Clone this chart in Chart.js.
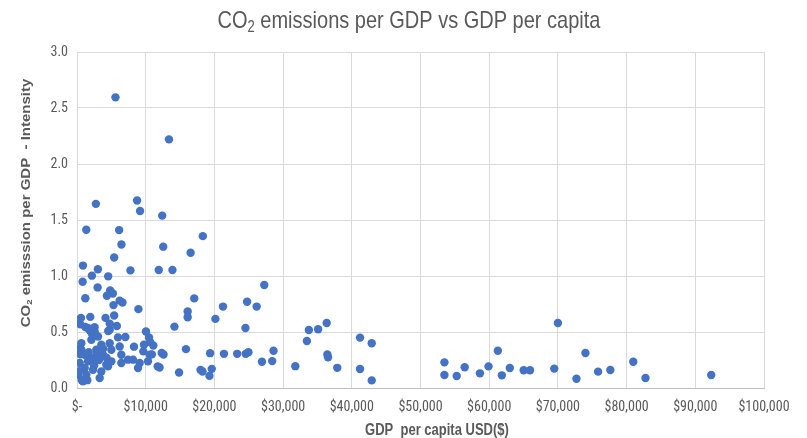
<!DOCTYPE html>
<html>
<head>
<meta charset="utf-8">
<script src="https://cdn.jsdelivr.net/npm/chart.js@4"></script>
<style>
  html, body { margin: 0; padding: 0; background: #ffffff; }
  #wrap { width: 807px; height: 438px; }
</style>
</head>
<body>
<div id="wrap"><canvas id="c" width="807" height="438"></canvas></div>
<script>
// GDP per capita (USD) for each country
const gdpPerCapita = [
  5600, 13390,
  2750, 8744, 9180, 12400, 1350, 6135, 6470, 12550, 5410, 870, 3040, 7780, 11900, 13894,
  2170, 4540, 820, 3000, 4830, 5220, 4350, 1210, 6620, 6210, 5310, 8940, 580, 1930, 4150, 5410,
  18317, 16538, 27260, 17067, 21250, 24760, 26150, 16106, 16106, 20144,
  480, 1210, 2560, 1840, 4540, 2170, 4760, 5800, 4760, 1600, 2570, 3060, 2090, 5970, 7040,
  10040, 10480, 10630, 11110, 8300, 9750, 630, 630, 3540, 4760, 5000, 6210, 2810, 12330, 9650,
  10900, 14183, 15865, 12596, 19375, 21394, 23317, 24567, 24952, 24519, 28606,
  3780, 6450, 7420, 8150, 9120, 10580, 10330, 8880, 1120, 390, 1600, 2570, 4270, 5000, 6450,
  1120, 2330, 3540, 150, 1360, 3300, 870, 4510, 11740, 12019, 14856, 17981, 18269, 19615, 19279,
  300, 200, 500, 300, 700, 1500, 2500, 3200, 2000, 1700, 2900, 3800, 4300,
  26923, 28413, 31779, 33462, 33750, 35096, 36346, 36442, 36538, 37885,
  41200, 42900, 41200, 42900,
  53480, 53480, 55270, 56430, 58650, 59900, 61260, 61840, 63000, 65020, 65940, 69470, 70000,
  72700, 74010, 75850, 77630, 80970, 82750, 92320
];

// CO2 emissions per unit of GDP (intensity), same order as gdpPerCapita
const intensity = [
  2.595, 2.22,
  1.644, 1.674, 1.58, 1.539, 1.413, 1.41, 1.281, 1.262, 1.165, 1.093, 1.06, 1.05, 1.054, 1.054,
  1.003, 0.997, 0.949, 0.898, 0.871, 0.844, 0.823, 0.802, 0.763, 0.78, 0.74, 0.704, 0.626, 0.635, 0.626, 0.647,
  1.356, 1.207, 0.919, 0.80, 0.727, 0.77, 0.727, 0.683, 0.632, 0.617,
  0.569, 0.545, 0.542, 0.515, 0.509, 0.485, 0.575, 0.554, 0.52, 0.536, 0.505, 0.46, 0.43, 0.452, 0.455,
  0.505, 0.452, 0.41, 0.38, 0.369, 0.387, 0.40, 0.342, 0.387, 0.40, 0.342, 0.371, 0.342, 0.312, 0.327,
  0.30, 0.548, 0.347, 0.299, 0.311, 0.305, 0.305, 0.305, 0.32, 0.536, 0.332,
  0.297, 0.297, 0.253, 0.253, 0.223, 0.297, 0.238, 0.179, 0.297, 0.223, 0.238, 0.253, 0.208, 0.238, 0.223,
  0.179, 0.163, 0.148, 0.119, 0.119, 0.089, 0.059, 0.193, 0.193, 0.183, 0.138, 0.162, 0.147, 0.171, 0.108,
  0.58, 0.35, 0.30, 0.15, 0.07, 0.07, 0.20, 0.25, 0.27, 0.32, 0.30, 0.35, 0.27,
  0.234, 0.24, 0.195, 0.419, 0.518, 0.524, 0.581, 0.299, 0.275, 0.18,
  0.45, 0.399, 0.17, 0.068,
  0.229, 0.116, 0.107, 0.185, 0.131, 0.193, 0.333, 0.113, 0.179, 0.158, 0.158, 0.173, 0.58,
  0.083, 0.3125, 0.146, 0.161, 0.235, 0.089, 0.116
];

// Axis ranges and tick steps
const xTickValues = [0, 10000, 20000, 30000, 40000, 50000, 60000, 70000, 80000, 90000, 100000];
const yTickValues = [0.0, 0.5, 1.0, 1.5, 2.0, 2.5, 3.0];

// Titles, split into runs so the "2" in CO2 can be set as a subscript
const chartTitle = [['CO'], ['2', 'sub'], [' emissions per GDP vs GDP per capita']];
const yTitle = [['CO'], ['2', 'sub'], [' emisssion per GDP  - Intensity']];
const xTitle = [['GDP  per capita USD($)']];

const NARROW = "'Liberation Sans Narrow', 'Roboto Condensed', 'DejaVu Sans Condensed', 'Liberation Sans', sans-serif";
const SANS = "'Liberation Sans', Arial, sans-serif";
const GREY = '#595959';
const DOT = '#4472C4';

function formatDollar(v) {
  if (v === 0) return '$-';
  return '$' + v.toLocaleString('en-US');
}

// Draws a run of text with optional subscript pieces, centred on (cx, cy).
// `along` / `across` stretch the lettering along and across the text line.
function drawRich(ctx, parts, opts) {
  const { size, weight, cx, cy, angle, along, across } = opts;
  const subSize = Math.round(size * 0.66);
  const mainFont = weight + ' ' + size + 'px ' + SANS;
  const subFont = weight + ' ' + subSize + 'px ' + SANS;
  let total = 0;
  const widths = parts.map(p => {
    ctx.font = p[1] === 'sub' ? subFont : mainFont;
    const w = ctx.measureText(p[0]).width;
    total += w;
    return w;
  });
  ctx.save();
  ctx.translate(cx, cy);
  ctx.rotate(angle);
  ctx.scale(along, across);
  ctx.fillStyle = GREY;
  ctx.textBaseline = 'alphabetic';
  ctx.textAlign = 'left';
  let x = -total / 2;
  const base = size * 0.36;
  parts.forEach((p, i) => {
    const isSub = p[1] === 'sub';
    ctx.font = isSub ? subFont : mainFont;
    ctx.fillText(p[0], x, base + (isSub ? size * 0.2 : 0));
    x += widths[i];
  });
  ctx.restore();
}

const titlesPlugin = {
  id: 'richTitles',
  afterDraw(chart) {
    const ctx = chart.ctx;
    drawRich(ctx, chartTitle, { size: 20, weight: 'normal', cx: 409, cy: 19, angle: 0, along: 1, across: 1.2 });
    drawRich(ctx, yTitle, { size: 12.5, weight: 'bold', cx: 25, cy: 203, angle: -Math.PI / 2, along: 1.2, across: 1 });
    drawRich(ctx, xTitle, { size: 13, weight: 'bold', cx: 437, cy: 429, angle: 0, along: 1, across: 1.2 });
  }
};

const points = gdpPerCapita.map((g, i) => ({ x: g, y: intensity[i] }));

new Chart(document.getElementById('c'), {
  type: 'scatter',
  data: {
    datasets: [{
      data: points,
      backgroundColor: DOT,
      borderColor: DOT,
      borderWidth: 0,
      pointRadius: 4.2,
      pointHoverRadius: 4.2
    }]
  },
  options: {
    responsive: false,
    animation: false,
    events: [],
    layout: { padding: { left: 36, right: 43, top: 52, bottom: 22 } },
    plugins: {
      legend: { display: false },
      tooltip: { enabled: false },
      title: { display: false }
    },
    scales: {
      x: {
        type: 'linear',
        min: xTickValues[0],
        max: xTickValues[xTickValues.length - 1],
        afterBuildTicks: s => { s.ticks = xTickValues.map(v => ({ value: v })); },
        afterFit: s => { s.height = 28; },
        grid: { color: '#d9d9d9', drawTicks: false },
        border: { color: '#bfbfbf' },
        ticks: {
          color: GREY,
          padding: 11,
          maxRotation: 0,
          autoSkip: false,
          font: { family: NARROW, size: 14 },
          callback: v => formatDollar(v)
        }
      },
      y: {
        min: yTickValues[0],
        max: yTickValues[yTickValues.length - 1],
        afterBuildTicks: s => { s.ticks = yTickValues.map(v => ({ value: v })); },
        afterFit: s => { s.width = 41; },
        grid: { color: '#d9d9d9', drawTicks: false },
        border: { display: false },
        ticks: {
          color: GREY,
          padding: 9,
          font: { family: NARROW, size: 14 },
          callback: v => Number(v).toFixed(1)
        }
      }
    }
  },
  plugins: [titlesPlugin]
});
</script>
</body>
</html>
